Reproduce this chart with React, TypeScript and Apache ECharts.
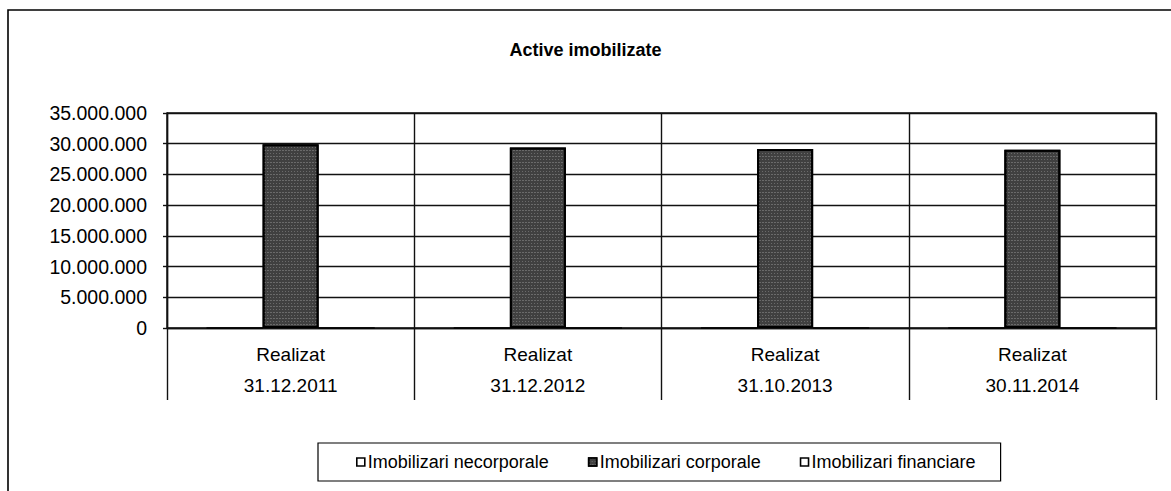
import React, { useEffect, useRef } from "react";
import * as echarts from "echarts";

const titleText = "Active imobilizate";
const periodLabels = ["Realizat", "Realizat", "Realizat", "Realizat"];
const dates = ["31.12.2011", "31.12.2012", "31.10.2013", "30.11.2014"];
const seriesNames = ["Imobilizari necorporale", "Imobilizari corporale", "Imobilizari financiare"];
const necorporale = [0, 0, 0, 0];
const corporale = [29900000, 29400000, 29150000, 29000000];
const financiare = [0, 0, 0, 0];
const yTicks = { min: 0, max: 35000000, interval: 5000000 };

const FONT = "'Liberation Sans', Arial, sans-serif";

function fmt(v: number): string {
  return String(Math.round(v)).replace(/\B(?=(\d{3})+(?!\d))/g, ".");
}

export default function App() {
  const ref = useRef<HTMLDivElement>(null);
  useEffect(() => {
    if (!ref.current) return;
    const chart = echarts.init(ref.current, null, { renderer: "svg" });
    const categories = dates.map((d, i) => periodLabels[i] + "\n" + d);
    const lineStyle = { color: "#111", width: 1.4 };
    chart.setOption({
      animation: false,
      backgroundColor: "#fff",
      title: {
        text: titleText,
        left: "center",
        top: 36,
        textStyle: { fontFamily: FONT, fontSize: 18, fontWeight: "bold", color: "#000" },
      },
      graphic: [
        {
          type: "rect",
          shape: { x: 8, y: 10, width: 1200, height: 500 },
          style: { fill: "none", stroke: "#000", lineWidth: 1.6 },
          silent: true,
        },
      ],
      grid: {
        left: 167,
        right: 15,
        top: 113,
        bottom: 163,
        show: true,
        borderColor: "#111",
        borderWidth: 1.4,
      },
      legend: {
        left: 318,
        top: 443,
        padding: [10, 25, 10, 38],
        borderColor: "#000",
        borderWidth: 1.2,
        itemWidth: 8,
        itemHeight: 8,
        itemGap: 39,
        icon: "rect",
        data: seriesNames,
        itemStyle: { borderColor: "#000", borderWidth: 1.6 },
        textStyle: { fontFamily: FONT, fontSize: 18, color: "#000", padding: [0, 0, 0, -2] },
      },
      xAxis: {
        type: "category",
        data: categories,
        axisLine: { show: true, lineStyle },
        axisTick: { show: true, length: 72, alignWithLabel: false, interval: 0, lineStyle },
        splitLine: { show: true, interval: 0, lineStyle },
        axisLabel: {
          interval: 0,
          margin: 11,
          fontFamily: FONT,
          fontSize: 19,
          color: "#000",
          lineHeight: 31,
        },
      },
      yAxis: {
        type: "value",
        min: yTicks.min,
        max: yTicks.max,
        interval: yTicks.interval,
        axisLine: { show: true, lineStyle },
        axisTick: { show: true, length: 4, lineStyle },
        splitLine: { show: true, lineStyle },
        axisLabel: {
          margin: 20,
          fontFamily: FONT,
          fontSize: 19.5,
          color: "#000",
          formatter: (v: number) => fmt(v),
        },
      },
      series: [
        {
          name: seriesNames[0],
          type: "bar",
          data: necorporale,
          barGap: "0%",
          barCategoryGap: "32%",
          itemStyle: { color: "#fff", borderColor: "#000", borderWidth: 1 },
        },
        {
          name: seriesNames[1],
          type: "bar",
          data: corporale,
          barGap: "0%",
          barCategoryGap: "32%",
          itemStyle: {
            color: "#404040",
            borderColor: "#000",
            borderWidth: 2,
            decal: {
              symbol: "rect",
              symbolSize: 1,
              color: "rgba(255,255,255,0.22)",
              dashArrayX: [[1, 2], [2, 1]],
              dashArrayY: [1, 2],
            },
          },
        },
        {
          name: seriesNames[2],
          type: "bar",
          data: financiare,
          barGap: "0%",
          barCategoryGap: "32%",
          itemStyle: { color: "#fff", borderColor: "#000", borderWidth: 1 },
        },
      ],
    });
    return () => chart.dispose();
  }, []);
  return (
    <div
      ref={ref}
      style={{ position: "absolute", left: 0, top: 0, width: 1171, height: 491 }}
    />
  );
}
